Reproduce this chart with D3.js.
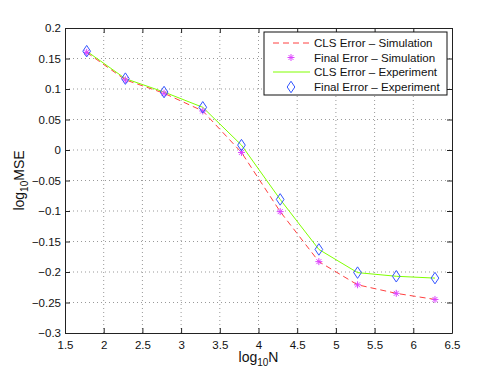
<!DOCTYPE html>
<html><head><meta charset="utf-8">
<script src="https://cdn.jsdelivr.net/npm/d3@7"></script>
<style>body{margin:0;background:#fff}svg{display:block}text{font-family:"Liberation Sans",Arial,sans-serif}</style>
</head><body><svg id="c" width="498" height="374"></svg>
<script>
const logN = [1.78, 2.28, 2.78, 3.28, 3.78, 4.28, 4.78, 5.28, 5.78, 6.28];
const clsSim = [0.160, 0.115, 0.093, 0.064, -0.004, -0.101, -0.183, -0.221, -0.235, -0.245];
const finalSim = [0.160, 0.115, 0.093, 0.064, -0.004, -0.101, -0.183, -0.221, -0.235, -0.245];
const clsExp = [0.162, 0.117, 0.095, 0.070, 0.008, -0.081, -0.163, -0.201, -0.207, -0.210];
const finalExp = [0.162, 0.117, 0.095, 0.070, 0.008, -0.081, -0.163, -0.201, -0.207, -0.210];
const xTicks = [1.5,2,2.5,3,3.5,4,4.5,5,5.5,6,6.5];
const yTicks = [0.2,0.15,0.1,0.05,0,-0.05,-0.1,-0.15,-0.2,-0.25,-0.3];
const legendLabels = ["CLS Error \u2013 Simulation","Final Error \u2013 Simulation","CLS Error \u2013 Experiment","Final Error \u2013 Experiment"];

const L=65,R=452,T=28,B=333;
const svg=d3.select("#c");
const x=d3.scaleLinear().domain([1.5,6.5]).range([L,R]);
const y=d3.scaleLinear().domain([-0.3,0.2]).range([B,T]);
const fmt=v=>{let s=String(+v.toFixed(2));return s.replace("-","\u2212");};

// grid
const g=svg.append("g");
g.selectAll(".gx").data(xTicks.slice(1,-1)).join("line").attr("x1",d=>x(d)).attr("x2",d=>x(d)).attr("y1",T).attr("y2",B)
 .attr("stroke","#999").attr("stroke-width",1).attr("stroke-dasharray","1,3");
g.selectAll(".gy").data(yTicks.slice(1,-1)).join("line").attr("y1",d=>y(d)).attr("y2",d=>y(d)).attr("x1",L).attr("x2",R)
 .attr("stroke","#999").attr("stroke-width",1).attr("stroke-dasharray","1,3");

// axes (MATLAB style inward ticks)
const ax=svg.append("g");
const bx=ax.append("g").attr("transform",`translate(0,${B})`).call(d3.axisBottom(x).tickValues(xTicks).tickSizeInner(-5).tickSizeOuter(0).tickFormat(fmt));
const tx=ax.append("g").attr("transform",`translate(0,${T})`).call(d3.axisTop(x).tickValues(xTicks).tickSizeInner(-5).tickSizeOuter(0).tickFormat(""));
const ly=ax.append("g").attr("transform",`translate(${L},0)`).call(d3.axisLeft(y).tickValues(yTicks).tickSizeInner(-5).tickSizeOuter(0).tickFormat(fmt));
const ry=ax.append("g").attr("transform",`translate(${R},0)`).call(d3.axisRight(y).tickValues(yTicks).tickSizeInner(-5).tickSizeOuter(0).tickFormat(""));
ax.selectAll("path.domain").attr("stroke","#222");
ax.selectAll(".tick line").attr("stroke","#222");
ax.selectAll(".tick text").attr("font-size",11.5).attr("fill","#111").attr("font-family","'Liberation Sans',Arial,sans-serif");
bx.selectAll(".tick text").attr("dy","0.9em").attr("y",6);
ly.selectAll(".tick text").attr("x",-4);

// lines
const line=d3.line().x((d,i)=>x(logN[i])).y(d=>y(d));
svg.append("path").datum(clsSim).attr("d",line).attr("fill","none").attr("stroke","#ff4040").attr("stroke-width",1).attr("stroke-dasharray","6,4");
svg.append("path").datum(clsExp).attr("d",line).attr("fill","none").attr("stroke","#80ff00").attr("stroke-width",1);

// star marker
function star(sel,cx,cy,r){
  const gg=sel.append("g").attr("stroke","#dd44ff").attr("stroke-width",1);
  for(let k=0;k<4;k++){const a=k*Math.PI/4;gg.append("line").attr("x1",cx-r*Math.cos(a)).attr("y1",cy-r*Math.sin(a)).attr("x2",cx+r*Math.cos(a)).attr("y2",cy+r*Math.sin(a));}
}
function diamond(sel,cx,cy,r){
  sel.append("path").attr("d",`M${cx},${cy-r*1.2}L${cx+r*0.8},${cy}L${cx},${cy+r*1.2}L${cx-r*0.8},${cy}Z`).attr("fill","none").attr("stroke","#3355ff").attr("stroke-width",1);
}
const mk=svg.append("g");
finalSim.forEach((v,i)=>star(mk,x(logN[i]),y(v),3.5));
finalExp.forEach((v,i)=>diamond(mk,x(logN[i]),y(v),4.8));

// labels
const xl=svg.append("text").attr("x",(L+R)/2).attr("y",362).attr("text-anchor","middle").attr("font-size",14).attr("fill","#111");
xl.append("tspan").text("log");
xl.append("tspan").text("10").attr("font-size",10).attr("dy",4);
xl.append("tspan").text("N").attr("dy",-4);
const yl=svg.append("text").attr("transform",`translate(24,${(T+B)/2}) rotate(-90)`).attr("text-anchor","middle").attr("font-size",14).attr("fill","#111");
yl.append("tspan").text("log");
yl.append("tspan").text("10").attr("font-size",10).attr("dy",4);
yl.append("tspan").text("MSE").attr("dy",-4);

// legend
const lg=svg.append("g");
lg.append("rect").attr("x",264).attr("y",32).attr("width",183).attr("height",63).attr("fill","#fff").attr("stroke","#111").attr("stroke-width",1);
const ly0=[43,57.5,72,87];
lg.append("line").attr("x1",273).attr("x2",310).attr("y1",ly0[0]).attr("y2",ly0[0]).attr("stroke","#ff4040").attr("stroke-dasharray","6,4");
star(lg,291,ly0[1],3.5);
lg.append("line").attr("x1",273).attr("x2",310).attr("y1",ly0[2]).attr("y2",ly0[2]).attr("stroke","#80ff00");
diamond(lg,291,ly0[3],4.8);
lg.selectAll("text.l").data(legendLabels).join("text").attr("x",314).attr("y",(d,i)=>ly0[i]).attr("dy","0.35em").attr("font-size",11.6).attr("fill","#111").text(d=>d);
</script></body></html>
